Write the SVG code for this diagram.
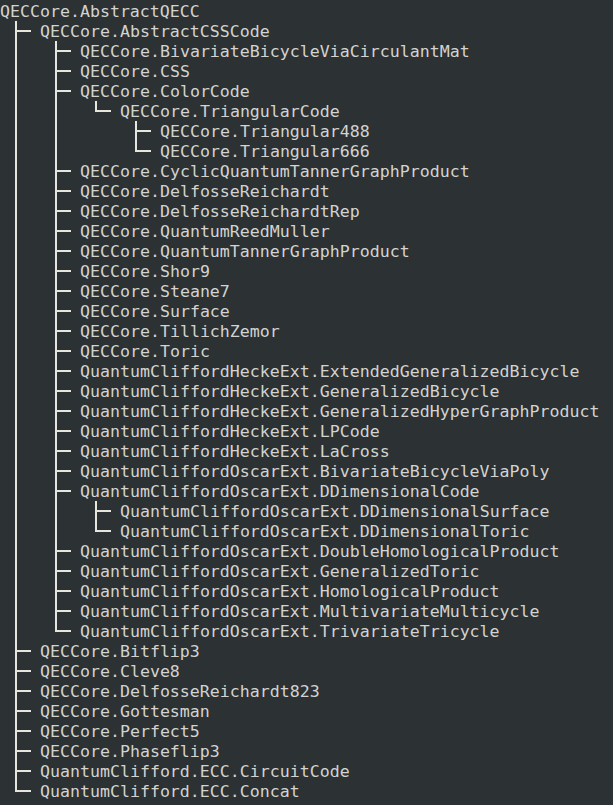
<svg xmlns="http://www.w3.org/2000/svg" width="613" height="805" viewBox="0 0 613 805">
<style>
.t{font-family:"DejaVu Sans Mono","Liberation Mono",monospace;font-size:16.6px;fill:#d3d3d0}
.c{fill:none;stroke:#e6e6df;stroke-width:2}
</style>
<rect width="613" height="805" fill="#2c3134"/>
<g id="connectors">
<path class="c" d="M16 21V791 M15 31H31 M15 651H31 M15 671H31 M15 691H31 M15 711H31 M15 731H31 M15 751H31 M15 771H31 M15 791H31"/>
<path class="c" d="M56 41V631 M55 51H71 M55 71H71 M55 91H71 M55 171H71 M55 191H71 M55 211H71 M55 231H71 M55 251H71 M55 271H71 M55 291H71 M55 311H71 M55 331H71 M55 351H71 M55 371H71 M55 391H71 M55 411H71 M55 431H71 M55 451H71 M55 471H71 M55 491H71 M55 551H71 M55 571H71 M55 591H71 M55 611H71 M55 631H71"/>
<path class="c" d="M96 101V111 M95 111H111"/>
<path class="c" d="M136 121V151 M135 131H151 M135 151H151"/>
<path class="c" d="M96 501V531 M95 511H111 M95 531H111"/>
</g>
<g id="n0"><text class="t" x="0" y="17">QECCore.AbstractQECC</text></g>
<g id="n1"><text class="t" x="40" y="37">QECCore.AbstractCSSCode</text></g>
<g id="n2"><text class="t" x="80" y="57">QECCore.BivariateBicycleViaCirculantMat</text></g>
<g id="n3"><text class="t" x="80" y="77">QECCore.CSS</text></g>
<g id="n4"><text class="t" x="80" y="97">QECCore.ColorCode</text></g>
<g id="n5"><text class="t" x="120" y="117">QECCore.TriangularCode</text></g>
<g id="n6"><text class="t" x="160" y="137">QECCore.Triangular488</text></g>
<g id="n7"><text class="t" x="160" y="157">QECCore.Triangular666</text></g>
<g id="n8"><text class="t" x="80" y="177">QECCore.CyclicQuantumTannerGraphProduct</text></g>
<g id="n9"><text class="t" x="80" y="197">QECCore.DelfosseReichardt</text></g>
<g id="n10"><text class="t" x="80" y="217">QECCore.DelfosseReichardtRep</text></g>
<g id="n11"><text class="t" x="80" y="237">QECCore.QuantumReedMuller</text></g>
<g id="n12"><text class="t" x="80" y="257">QECCore.QuantumTannerGraphProduct</text></g>
<g id="n13"><text class="t" x="80" y="277">QECCore.Shor9</text></g>
<g id="n14"><text class="t" x="80" y="297">QECCore.Steane7</text></g>
<g id="n15"><text class="t" x="80" y="317">QECCore.Surface</text></g>
<g id="n16"><text class="t" x="80" y="337">QECCore.TillichZemor</text></g>
<g id="n17"><text class="t" x="80" y="357">QECCore.Toric</text></g>
<g id="n18"><text class="t" x="80" y="377">QuantumCliffordHeckeExt.ExtendedGeneralizedBicycle</text></g>
<g id="n19"><text class="t" x="80" y="397">QuantumCliffordHeckeExt.GeneralizedBicycle</text></g>
<g id="n20"><text class="t" x="80" y="417">QuantumCliffordHeckeExt.GeneralizedHyperGraphProduct</text></g>
<g id="n21"><text class="t" x="80" y="437">QuantumCliffordHeckeExt.LPCode</text></g>
<g id="n22"><text class="t" x="80" y="457">QuantumCliffordHeckeExt.LaCross</text></g>
<g id="n23"><text class="t" x="80" y="477">QuantumCliffordOscarExt.BivariateBicycleViaPoly</text></g>
<g id="n24"><text class="t" x="80" y="497">QuantumCliffordOscarExt.DDimensionalCode</text></g>
<g id="n25"><text class="t" x="120" y="517">QuantumCliffordOscarExt.DDimensionalSurface</text></g>
<g id="n26"><text class="t" x="120" y="537">QuantumCliffordOscarExt.DDimensionalToric</text></g>
<g id="n27"><text class="t" x="80" y="557">QuantumCliffordOscarExt.DoubleHomologicalProduct</text></g>
<g id="n28"><text class="t" x="80" y="577">QuantumCliffordOscarExt.GeneralizedToric</text></g>
<g id="n29"><text class="t" x="80" y="597">QuantumCliffordOscarExt.HomologicalProduct</text></g>
<g id="n30"><text class="t" x="80" y="617">QuantumCliffordOscarExt.MultivariateMulticycle</text></g>
<g id="n31"><text class="t" x="80" y="637">QuantumCliffordOscarExt.TrivariateTricycle</text></g>
<g id="n32"><text class="t" x="40" y="657">QECCore.Bitflip3</text></g>
<g id="n33"><text class="t" x="40" y="677">QECCore.Cleve8</text></g>
<g id="n34"><text class="t" x="40" y="697">QECCore.DelfosseReichardt823</text></g>
<g id="n35"><text class="t" x="40" y="717">QECCore.Gottesman</text></g>
<g id="n36"><text class="t" x="40" y="737">QECCore.Perfect5</text></g>
<g id="n37"><text class="t" x="40" y="757">QECCore.Phaseflip3</text></g>
<g id="n38"><text class="t" x="40" y="777">QuantumClifford.ECC.CircuitCode</text></g>
<g id="n39"><text class="t" x="40" y="797">QuantumClifford.ECC.Concat</text></g>
</svg>
